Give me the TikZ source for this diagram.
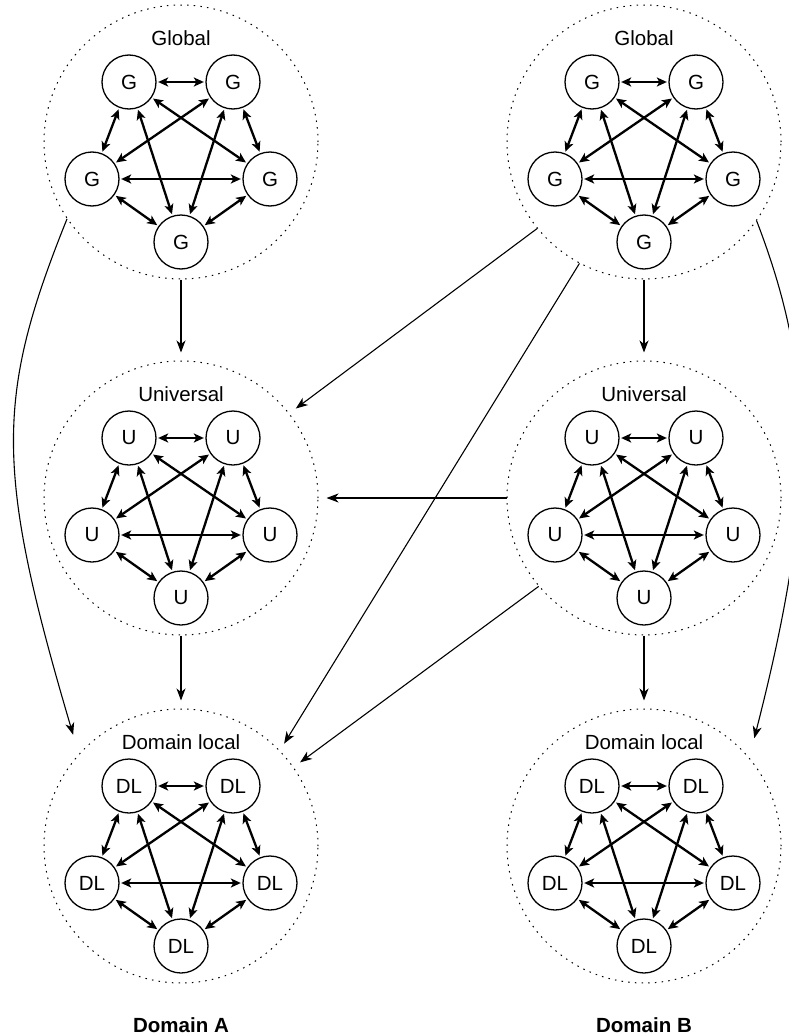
\documentclass[tikz,border=0pt]{standalone}
\usepackage{fontspec}
\setmainfont{Liberation Sans}
\usetikzlibrary{arrows.meta}

\tikzset{
  grp/.style={circle, draw, line width=1pt, dash pattern=on 1.5pt off 5.2pt, minimum size=274pt, inner sep=0pt},
  mem/.style={circle, draw, line width=1.3pt, minimum size=54pt, inner sep=0pt, font=\fontsize{20.5}{24}\selectfont},
  lbl/.style={font=\fontsize{20.5}{24}\selectfont},
  link/.style={{Stealth[length=10pt,width=9pt,inset=2.5pt]}-{Stealth[length=10pt,width=9pt,inset=2.5pt]}, line width=2.3pt, shorten <=1.5pt, shorten >=1.5pt},
  flow/.style={-{Stealth[length=12pt,width=9pt,inset=3.5pt]}, line width=1.1pt, shorten >=8pt}
}

\begin{document}
\begin{tikzpicture}[x=1pt, y=-1pt]
		\useasboundingbox (0,0) rectangle (788,1036);
		\foreach \n/\x/\y/\t/\s in {GA/181/142/Global/G, UA/181/498/Universal/U, DA/181/846/Domain local/DL,
		                            GB/644/142/Global/G, UB/644/498/Universal/U, DB/644/846/Domain local/DL} {
		\node[grp] (\n) at (\x,\y) {};
		\node[lbl] (\n L) at (\x,\y-104) {\t};
		\node[mem] (\n1) at (\x-52,\y-60) {\s};
		\node[mem] (\n2) at (\x+52,\y-60) {\s};
		\node[mem] (\n3) at (\x+89,\y+37) {\s};
		\node[mem] (\n4) at (\x,\y+100) {\s};
		\node[mem] (\n5) at (\x-89,\y+37) {\s};
		\foreach \i/\j in {1/2,1/3,1/4,1/5,2/3,2/4,2/5,3/4,3/5,4/5}
		\draw[link] (\n\i) -- (\n\j);
		}
		\draw[flow] (GA.south) -- (UA.north);
		\draw[flow] (UA.south) -- (DA.north);
		\draw[flow] (GB.south) -- (UB.north);
		\draw[flow] (UB.south) -- (DB.north);
		\draw[flow] (UB.west) -- (UA.east);
		\draw[flow] (GB.219) -- (UA.38);
		\draw[flow] (GB.242) -- (DA.44);
		\draw[flow] (UB.220) -- (DA.35);
		\draw[flow, shorten >=20pt] (GA.214) .. controls (-5,398) and (-5,470) .. (DA.138);
		\draw[flow, shorten >=20pt] (GB.325) .. controls (816,375) and (816,497) .. (DB.40);
		\node[font=\fontsize{20.5}{24}\selectfont\bfseries] (DomA) at (181,1025) {Domain A};
		\node[font=\fontsize{20.5}{24}\selectfont\bfseries] (DomB) at (644,1025) {Domain B};
		\end{tikzpicture}
\end{document}
